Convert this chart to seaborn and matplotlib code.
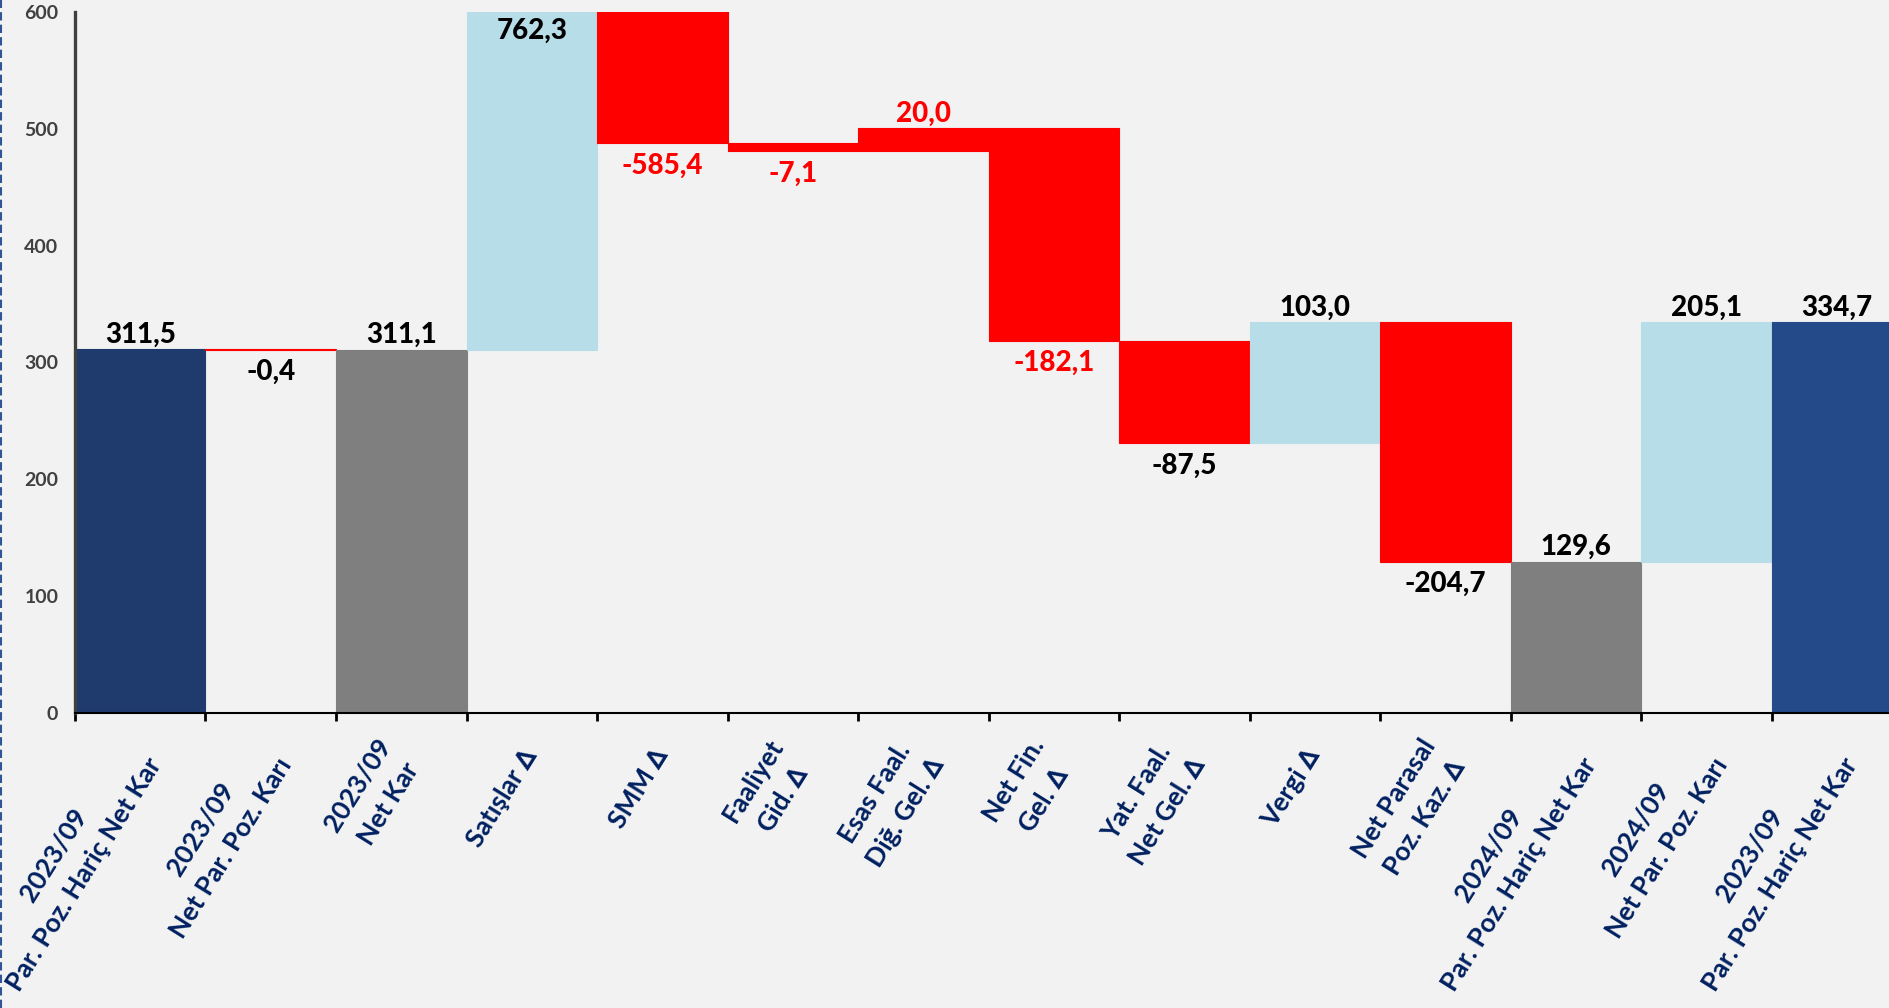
import matplotlib

matplotlib.use("Agg")
import matplotlib.pyplot as plt
import numpy as np
import pandas as pd
import seaborn as sns
from matplotlib.lines import Line2D


CATEGORIES = [
    "2023/09\nPar. Poz. Hariç Net Kar",
    "2023/09\nNet Par. Poz. Karı",
    "2023/09\nNet Kar",
    "Satışlar ∆",
    "SMM ∆",
    "Faaliyet\nGid. ∆",
    "Esas Faal.\nDiğ. Gel. ∆",
    "Net Fin.\nGel. ∆",
    "Yat. Faal.\nNet Gel. ∆",
    "Vergi ∆",
    "Net Parasal\nPoz. Kaz. ∆",
    "2024/09\nPar. Poz. Hariç Net Kar",
    "2024/09\nNet Par. Poz. Karı",
    "2023/09\nPar. Poz. Hariç Net Kar",
]
VALUES = [311.5, -0.4, 311.1, 762.3, -585.4, -7.1, 20.0, -182.1, -87.5, 103.0, -204.7, 129.6, 205.1, 334.7]
IS_TOTAL = [True, False, True, False, False, False, False, False, False, False, False, True, False, True]

NAVY = "#1f3b6e"
BLUE = "#244a8a"
GRAY = "#7f7f7f"
LIGHT = "#b7dde8"
RED = "#ff0000"
BAR_COLORS = [NAVY, RED, GRAY, LIGHT, RED, RED, RED, RED, RED, LIGHT, RED, GRAY, LIGHT, BLUE]
LABEL_COLORS = ["black", "black", "black", "black", RED, RED, RED, RED, "black", "black", "black", "black", "black", "black"]
BG = "#f2f2f2"
TICK_BLUE = "#002060"
Y_MAX = 600

# category label layout (points)
LABEL_ANGLE = 58
LABEL_SIZE = 19
LABEL_PAD = 27
LINE_GAP = 26


def waterfall_frame() -> pd.DataFrame:
    bottoms, heights, tops = [], [], []
    running = 0.0
    for value, is_total in zip(VALUES, IS_TOTAL):
        if is_total:
            start, end = 0.0, value
            running = value
        else:
            start, end = running, running + value
            running = end
        bottoms.append(min(start, end))
        heights.append(abs(end - start))
        tops.append(max(start, end))
    return pd.DataFrame(
        {"pos": range(len(VALUES)), "bottom": bottoms, "height": heights, "top": tops, "value": VALUES}
    )


def draw_category_labels(fig, ax) -> None:
    # each line drawn on its own so the rotated boxes stay tight; lines are centred
    # on each other and the block's right end sits under the category centre
    renderer = fig.canvas.get_renderer()
    theta = np.deg2rad(LABEL_ANGLE)
    along_vec = np.array([np.cos(theta), np.sin(theta)])
    down_vec = np.array([np.sin(theta), -np.cos(theta)])
    for pos, label in enumerate(CATEGORIES):
        lines = label.split("\n")
        widths = []
        for line in lines:
            probe = ax.text(0, 0, line, fontsize=LABEL_SIZE, fontweight="bold")
            widths.append(probe.get_window_extent(renderer).width * 72 / fig.dpi)
            probe.remove()
        half = max(widths) / 2
        for k, line in enumerate(lines):
            perp = (k - (len(lines) - 1) / 2) * LINE_GAP
            dx, dy = -half * along_vec + perp * down_vec
            ax.annotate(
                line,
                xy=(pos, 0),
                xycoords=("data", "axes fraction"),
                xytext=(dx, dy - LABEL_PAD),
                textcoords="offset points",
                rotation=LABEL_ANGLE,
                rotation_mode="anchor",
                ha="center",
                va="center",
                fontsize=LABEL_SIZE,
                fontweight="bold",
                color=TICK_BLUE,
                annotation_clip=False,
            )


def main() -> None:
    sns.set_theme(style="white")
    plt.rcParams["font.family"] = ["Lato", "DejaVu Sans"]
    plt.rcParams["font.weight"] = "bold"

    df = waterfall_frame()

    fig = plt.figure(figsize=(18.89, 10.08), dpi=100, facecolor=BG)
    ax = fig.add_axes([0.0397, 0.2927, 0.9672, 0.6954])
    ax.set_facecolor(BG)

    sns.barplot(
        data=df,
        x="pos",
        y="height",
        bottom=df["bottom"].to_numpy(),
        width=1.0,
        color=GRAY,
        saturation=1,
        errorbar=None,
        ax=ax,
    )
    for patch, color in zip(ax.patches, BAR_COLORS):
        patch.set_facecolor(color)
        patch.set_edgecolor(color)
        patch.set_linewidth(0.8)

    ax.set_xlim(-0.5, len(VALUES) - 0.5)
    ax.set_ylim(0, Y_MAX)
    ax.set_xlabel("")
    ax.set_ylabel("")

    ax.set_xticks(range(len(CATEGORIES)))
    ax.set_xticklabels([""] * len(CATEGORIES))
    ax.set_xticks(np.arange(-0.5, len(CATEGORIES), 1.0), minor=True)
    ax.tick_params(axis="x", which="major", length=0)
    ax.tick_params(axis="x", which="minor", length=6, width=2, color="black", direction="out", bottom=True)

    ax.set_yticks(range(0, Y_MAX + 1, 100))
    ax.tick_params(axis="y", length=0, pad=12, labelsize=14, labelcolor="#404040")
    for label in ax.get_yticklabels():
        label.set_fontweight("bold")

    sns.despine(ax=ax, top=True, right=True)
    ax.spines["left"].set_color("#404040")
    ax.spines["left"].set_linewidth(2.4)
    ax.spines["bottom"].set_color("black")
    ax.spines["bottom"].set_linewidth(1.5)

    draw_category_labels(fig, ax)

    for row, color in zip(df.itertuples(), LABEL_COLORS):
        text = f"{row.value:.1f}".replace(".", ",")
        if row.value >= 0 and row.top > Y_MAX:
            xy, offset, va = (row.pos, Y_MAX), -4, "top"
        elif row.value >= 0:
            xy, offset, va = (row.pos, row.top), 1, "bottom"
        else:
            xy, offset, va = (row.pos, row.bottom), -7, "top"
        ax.annotate(
            text,
            xy=xy,
            xytext=(0, offset),
            textcoords="offset points",
            ha="center",
            va=va,
            fontsize=20,
            fontweight="black",
            color=color,
        )

    fig.add_artist(
        Line2D([0.0005, 0.0005], [0, 1], transform=fig.transFigure, color="#2f5597", lw=1.5, ls=(0, (4, 2)))
    )

    fig.savefig("out.png", dpi=100, facecolor=BG)
    plt.close(fig)


if __name__ == "__main__":
    main()
